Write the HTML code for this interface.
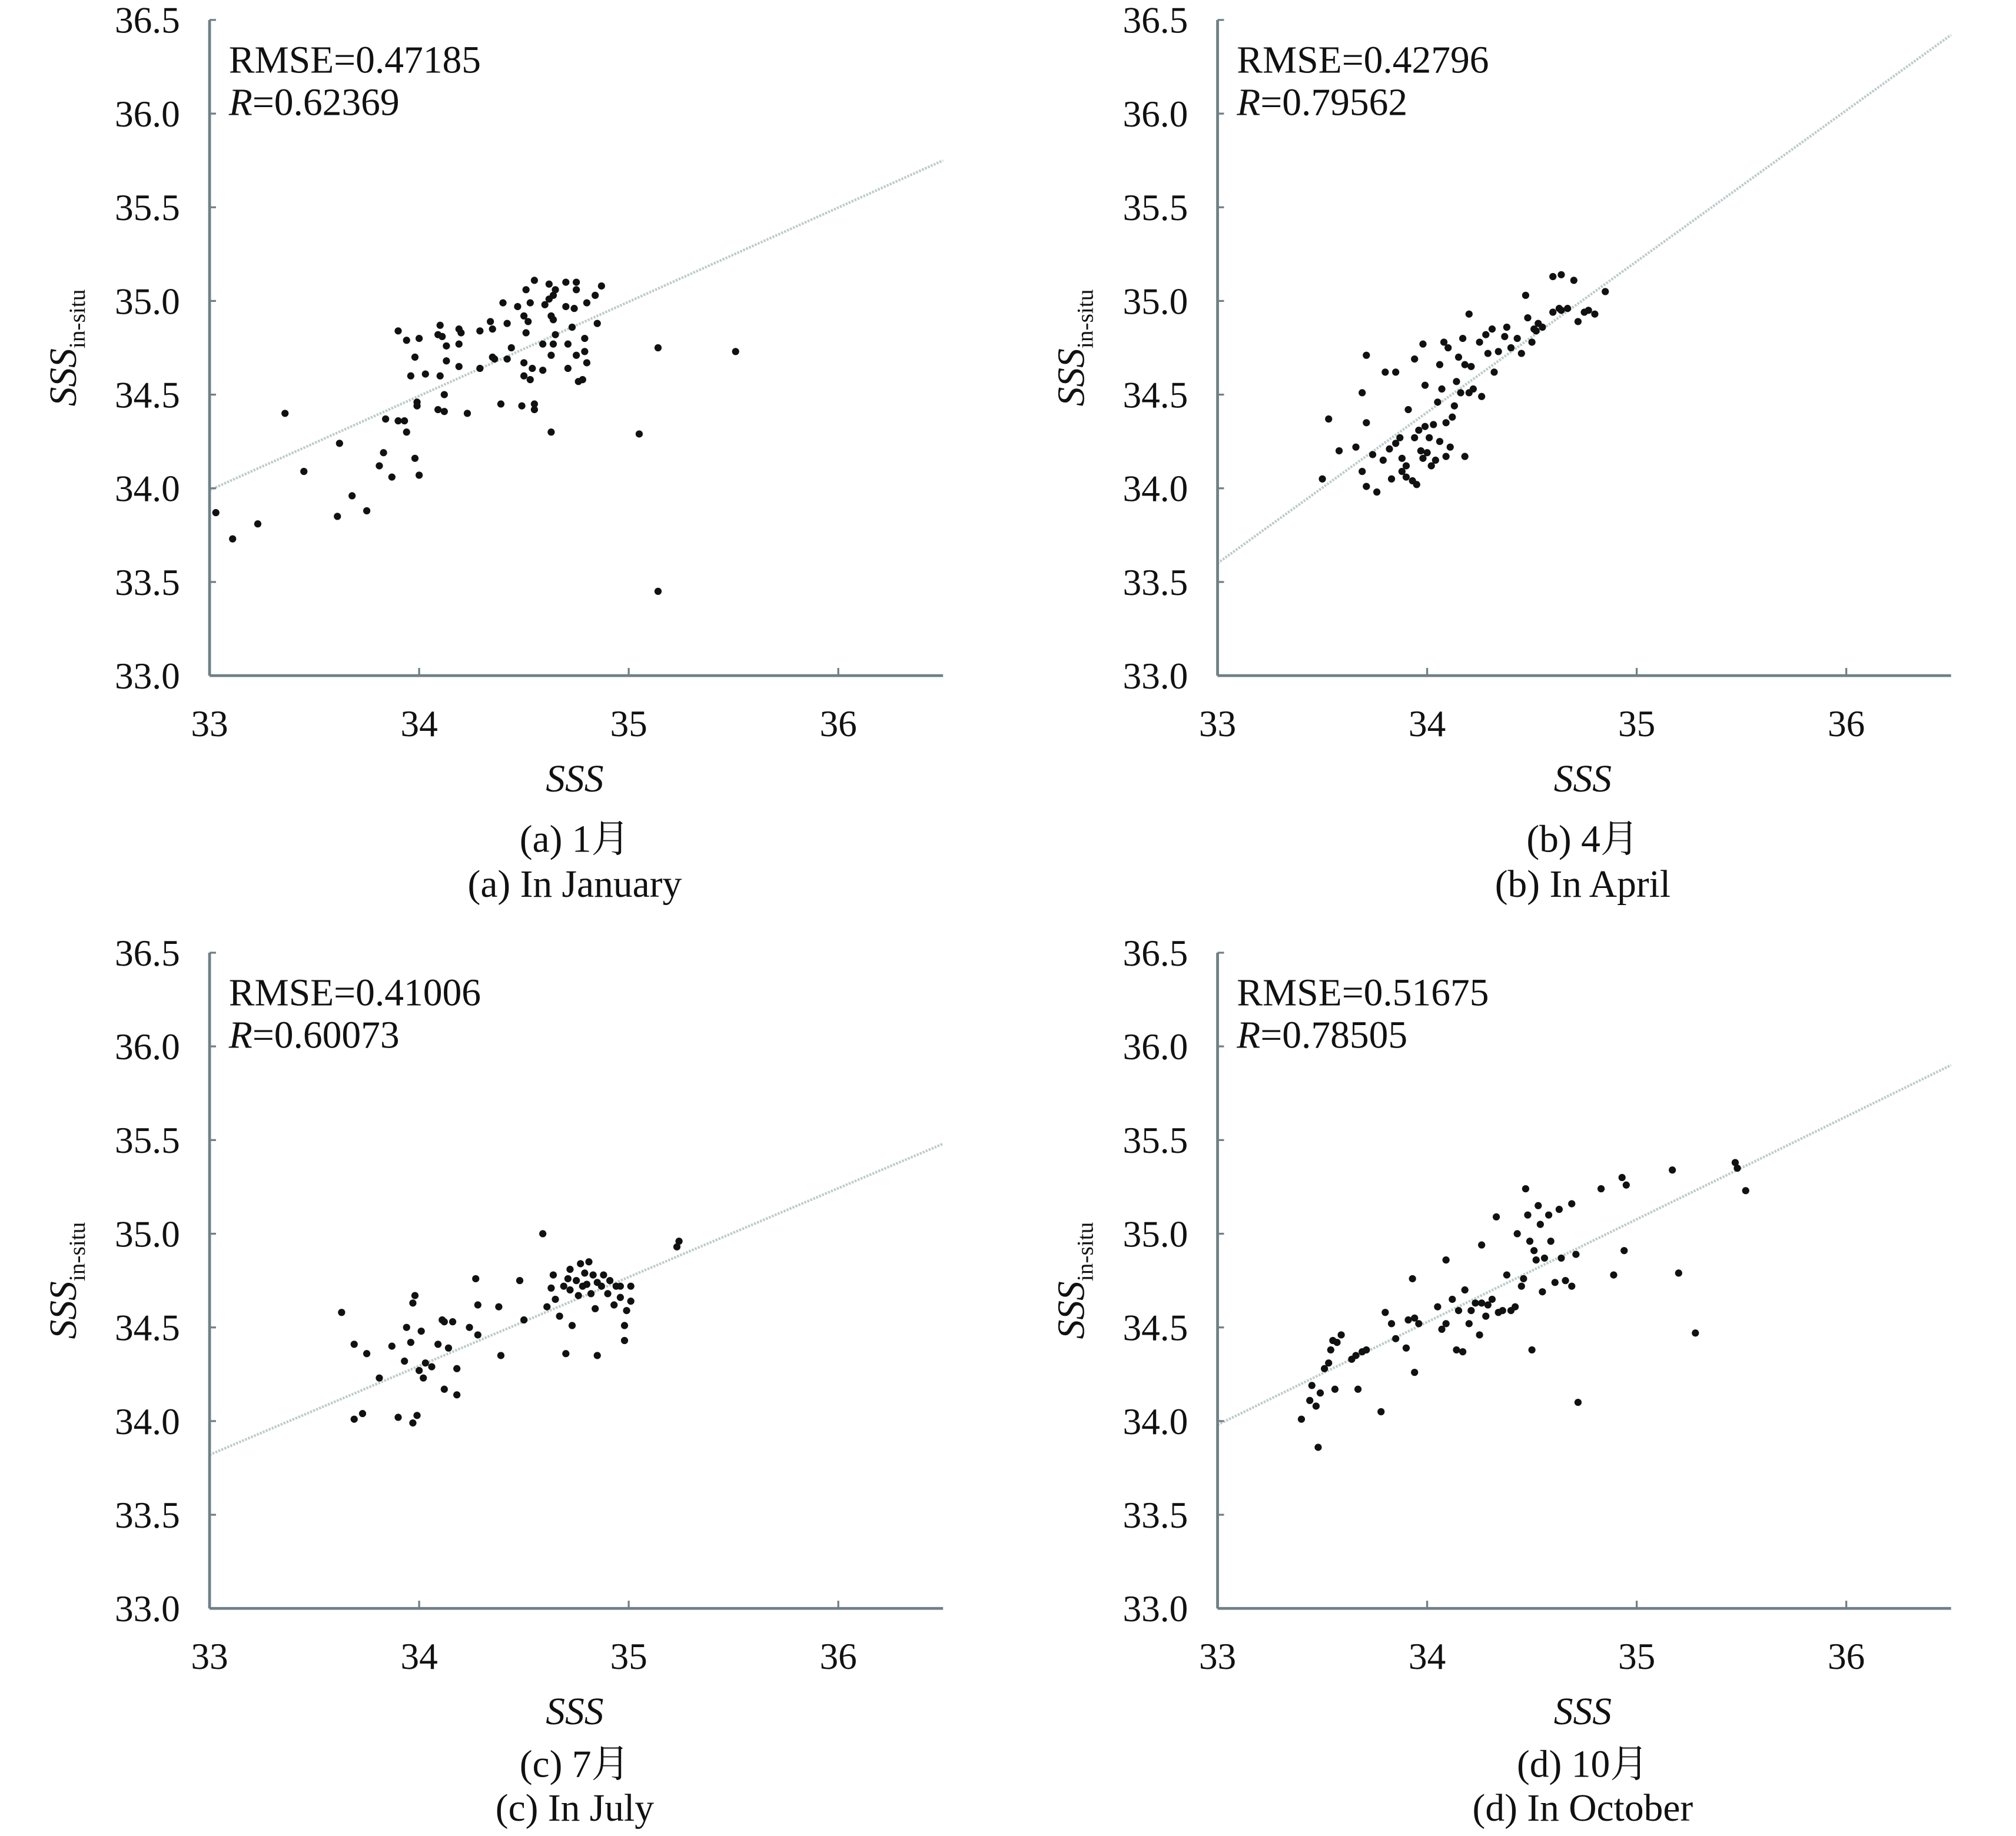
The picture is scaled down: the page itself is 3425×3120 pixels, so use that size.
<!DOCTYPE html>
<html><head><meta charset="utf-8"><style>
html,body{margin:0;padding:0;background:#fff}
svg{display:block}
text{font-family:"Liberation Serif","Noto Serif CJK SC","Noto Sans CJK SC",serif;fill:#111}
</style></head><body>
<svg id="chart" xmlns="http://www.w3.org/2000/svg" width="3425" height="3120" viewBox="0 0 1568 1428" preserveAspectRatio="none"></svg>
<script>
const xTicks = [33, 34, 35, 36];
const yTicks = [33.0, 33.5, 34.0, 34.5, 35.0, 35.5, 36.0, 36.5];
const titlesA = ["RMSE=0.47185", "0.62369", "(a) 1月", "(a) In January"];
const titlesB = ["RMSE=0.42796", "0.79562", "(b) 4月", "(b) In April"];
const titlesC = ["RMSE=0.41006", "0.60073", "(c) 7月", "(c) In July"];
const titlesD = ["RMSE=0.51675", "0.78505", "(d) 10月", "(d) In October"];
const lineA = [33.99, 35.75];
const lineB = [33.60, 36.42];
const lineC = [33.82, 35.48];
const lineD = [33.98, 35.90];
const xA = [33.03,33.11,33.23,33.36,33.45,33.62,33.61,33.68,33.75,33.81,33.83,33.84,33.87,33.90,33.93,33.94,33.90,33.94,33.96,33.98,33.99,33.99,33.98,34.00,34.00,34.03,34.10,34.09,34.11,34.13,34.10,34.13,34.12,34.09,34.12,34.19,34.20,34.19,34.19,34.23,34.29,34.29,34.34,34.35,34.35,34.36,34.40,34.39,34.42,34.42,34.44,34.47,34.49,34.50,34.52,34.51,34.55,34.53,34.51,34.50,34.50,34.53,34.54,34.55,34.55,34.59,34.59,34.60,34.62,34.62,34.64,34.65,34.63,34.64,34.63,34.64,34.65,34.63,34.70,34.70,34.71,34.71,34.73,34.74,34.75,34.75,34.75,34.76,34.78,34.79,34.79,34.80,34.80,34.84,34.87,34.85,35.05,35.14,35.14,35.51];
const yA = [33.87,33.73,33.81,34.40,34.09,34.24,33.85,33.96,33.88,34.12,34.19,34.37,34.06,34.36,34.36,34.30,34.84,34.79,34.60,34.70,34.46,34.44,34.16,34.07,34.80,34.61,34.87,34.82,34.81,34.76,34.60,34.68,34.50,34.42,34.41,34.85,34.83,34.77,34.65,34.40,34.84,34.64,34.89,34.85,34.70,34.69,34.99,34.45,34.88,34.69,34.75,34.97,34.44,34.92,34.89,35.06,35.11,34.99,34.83,34.67,34.60,34.58,34.64,34.45,34.42,34.63,34.77,34.98,35.09,35.01,35.03,35.06,34.92,34.90,34.71,34.77,34.82,34.30,35.10,34.97,34.77,34.64,34.86,34.96,35.10,35.06,34.71,34.57,34.58,34.80,34.73,34.99,34.67,35.03,35.08,34.88,34.29,34.75,33.45,34.73];
const xB = [33.50,33.53,33.58,33.66,33.69,33.71,33.71,33.69,33.71,33.74,33.76,33.79,33.80,33.82,33.83,33.85,33.85,33.87,33.88,33.88,33.90,33.91,33.90,33.93,33.94,33.94,33.95,33.96,33.97,33.98,33.98,33.99,33.99,34.00,34.01,34.02,34.03,34.04,34.05,34.06,34.06,34.07,34.08,34.09,34.09,34.10,34.11,34.12,34.13,34.14,34.15,34.16,34.17,34.18,34.18,34.20,34.20,34.21,34.22,34.25,34.26,34.28,34.29,34.31,34.32,34.34,34.37,34.38,34.40,34.43,34.45,34.47,34.48,34.50,34.51,34.52,34.53,34.55,34.60,34.60,34.63,34.64,34.64,34.67,34.70,34.72,34.75,34.77,34.80,34.85];
const yB = [34.05,34.37,34.20,34.22,34.51,34.35,34.71,34.09,34.01,34.18,33.98,34.15,34.62,34.21,34.05,34.24,34.62,34.27,34.16,34.09,34.06,34.42,34.12,34.04,34.69,34.27,34.02,34.31,34.20,34.16,34.77,34.33,34.55,34.19,34.27,34.12,34.34,34.15,34.46,34.66,34.25,34.53,34.78,34.35,34.17,34.75,34.22,34.38,34.44,34.57,34.70,34.51,34.80,34.17,34.66,34.93,34.51,34.65,34.53,34.78,34.49,34.82,34.72,34.85,34.62,34.73,34.81,34.86,34.75,34.80,34.72,35.03,34.91,34.78,34.85,34.84,34.88,34.86,34.94,35.13,34.96,34.95,35.14,34.96,35.11,34.89,34.94,34.95,34.93,35.05];
const xC = [33.63,33.69,33.69,33.73,33.75,33.81,33.87,33.90,33.93,33.94,33.96,33.97,33.98,33.97,33.99,34.00,34.01,34.02,34.03,34.06,34.09,34.11,34.12,34.12,34.14,34.16,34.18,34.18,34.24,34.27,34.28,34.28,34.39,34.38,34.48,34.50,34.59,34.61,34.63,34.64,34.65,34.67,34.69,34.70,34.71,34.72,34.72,34.73,34.75,34.76,34.77,34.78,34.79,34.80,34.81,34.82,34.83,34.84,34.85,34.85,34.87,34.88,34.90,34.91,34.93,34.94,34.96,34.96,34.98,34.98,34.99,35.01,35.01,35.24,35.23];
const yC = [34.58,34.41,34.01,34.04,34.36,34.23,34.40,34.02,34.32,34.50,34.42,34.63,34.67,33.99,34.03,34.27,34.48,34.23,34.31,34.29,34.41,34.54,34.53,34.17,34.39,34.53,34.14,34.28,34.50,34.76,34.62,34.46,34.35,34.61,34.75,34.54,35.00,34.61,34.71,34.78,34.65,34.56,34.72,34.36,34.76,34.81,34.70,34.51,34.75,34.67,34.84,34.72,34.79,34.73,34.85,34.68,34.78,34.60,34.74,34.35,34.72,34.78,34.68,34.75,34.62,34.72,34.72,34.66,34.51,34.43,34.59,34.72,34.64,34.96,34.93];
const xD = [33.40,33.44,33.45,33.47,33.48,33.49,33.51,33.53,33.54,33.55,33.56,33.57,33.59,33.64,33.66,33.67,33.69,33.71,33.78,33.80,33.83,33.85,33.90,33.91,33.93,33.94,33.94,33.96,34.05,34.07,34.09,34.09,34.12,34.14,34.15,34.17,34.18,34.20,34.21,34.23,34.25,34.26,34.26,34.28,34.29,34.31,34.33,34.34,34.36,34.38,34.40,34.42,34.43,34.45,34.46,34.47,34.48,34.49,34.50,34.51,34.52,34.53,34.54,34.55,34.56,34.58,34.59,34.61,34.63,34.64,34.66,34.69,34.69,34.71,34.72,34.83,34.89,34.93,34.94,34.95,35.17,35.20,35.28,35.47,35.48,35.52];
const yD = [34.01,34.11,34.19,34.08,33.86,34.15,34.28,34.31,34.38,34.43,34.17,34.42,34.46,34.33,34.35,34.17,34.37,34.38,34.05,34.58,34.52,34.44,34.39,34.54,34.76,34.55,34.26,34.52,34.61,34.49,34.52,34.86,34.65,34.38,34.59,34.37,34.70,34.52,34.59,34.63,34.46,34.94,34.63,34.56,34.62,34.65,35.09,34.58,34.59,34.78,34.59,34.61,35.00,34.72,34.76,35.24,35.10,34.96,34.38,34.91,34.86,35.15,35.05,34.69,34.87,35.10,34.96,34.74,35.13,34.87,34.75,35.16,34.72,34.89,34.10,35.24,34.78,35.30,34.91,35.26,35.34,34.79,34.47,35.38,35.35,35.23];

const NS = "http://www.w3.org/2000/svg";
const svg = document.getElementById('chart');
function mk(tag, attrs, parent) {
  const e = document.createElementNS(NS, tag);
  for (const k in attrs) e.setAttribute(k, attrs[k]);
  (parent || svg).appendChild(e);
  return e;
}
function panel(id, ox, top, xs, ys, line, titles, capCn, capEn) {
  const bottom = top + 510;
  const W = 163;
  const g = mk('g', {});
  
  
  const sx = v => ox + (v - 33) * W;
  const sy = v => bottom - (v - 33) * (510 / 3.5);
  const xEnd = sx(36.5);
  const rl = mk('line', {x1: sx(33), y1: sy(line[0]), x2: xEnd, y2: sy(line[1]), stroke: '#bccaca', 'stroke-width': 2, 'stroke-dasharray': '1.5 1'}, g);
  
  
  const ya = mk('line', {x1: ox, y1: top, x2: ox, y2: bottom, stroke: '#6f8087', 'stroke-width': 2.2}, g);
  
  
  const xa = mk('line', {x1: ox, y1: bottom, x2: xEnd, y2: bottom, stroke: '#6f8087', 'stroke-width': 2.2}, g);
  
  
  yTicks.forEach(v => {
    mk('line', {x1: ox, y1: sy(v), x2: ox + 5, y2: sy(v), stroke: '#6f8087', 'stroke-width': 1.5}, g);
    const t = mk('text', {x: ox - 23, y: sy(v) + 10, 'text-anchor': 'end', 'font-size': 29}, g);
    t.textContent = v.toFixed(1);
    
    
  });
  xTicks.forEach(v => {
    mk('line', {x1: sx(v), y1: bottom, x2: sx(v), y2: bottom - 6, stroke: '#6f8087', 'stroke-width': 1.5}, g);
    const t = mk('text', {x: sx(v), y: bottom + 47, 'text-anchor': 'middle', 'font-size': 29}, g);
    t.textContent = String(v);
    
    
  });
  for (let i = 0; i < xs.length; i++) {
    const c = mk('circle', {cx: sx(xs[i]), cy: sy(ys[i]), r: 2.8, fill: '#111'}, g);
    
    
  }
  const t1 = mk('text', {x: ox + 15, y: top + 41, 'font-size': 30}, g);
  t1.textContent = titles[0];
  
  
  const t2 = mk('text', {x: ox + 15, y: top + 74, 'font-size': 30}, g);
  
  
  const ri = mk('tspan', {'font-style': 'italic'}, t2); ri.textContent = 'R';
  const rv = mk('tspan', {}, t2); rv.textContent = '=' + titles[1];
  const cx = ox + 284;
  const xt = mk('text', {x: cx, y: bottom + 90, 'text-anchor': 'middle', 'font-size': 30, 'font-style': 'italic'}, g);
  xt.textContent = 'SSS';
  
  
  const yc = top + 255;
  const yt = mk('text', {x: 0, y: 0, 'text-anchor': 'middle', 'font-size': 30, transform: 'translate(' + (ox - 104) + ',' + yc + ') rotate(-90)'}, g);
  
  
  const s1 = mk('tspan', {'font-style': 'italic'}, yt); s1.textContent = 'SSS';
  const s2 = mk('tspan', {'font-size': 18, dy: 7}, yt); s2.textContent = 'in-situ';
  const c1 = mk('text', {x: cx, y: bottom + capCn, 'text-anchor': 'middle', 'font-size': 30}, g);
  c1.textContent = titles[2];
  
  
  const c2 = mk('text', {x: cx, y: bottom + capEn, 'text-anchor': 'middle', 'font-size': 30}, g);
  c2.textContent = titles[3];
  
  
}
panel('a', 163, 15.5, xA, yA, lineA, titlesA, 137, 172);
panel('b', 947, 15.5, xB, yB, lineB, titlesB, 137, 172);
panel('c', 163, 741, xC, yC, lineC, titlesC, 131, 165);
panel('d', 947, 741, xD, yD, lineD, titlesD, 131, 165);
</script>
</body></html>
